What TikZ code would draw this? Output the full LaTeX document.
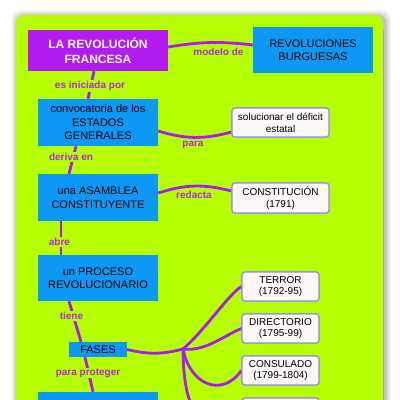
\documentclass[tikz,border=0pt]{standalone}
\usepackage{fontspec}
\setmainfont{Liberation Sans}
\definecolor{lime}{RGB}{182,255,0}
\definecolor{cpurple}{RGB}{178,28,240}
\definecolor{cblue}{RGB}{12,152,244}
\definecolor{lnk}{RGB}{165,30,240}
\definecolor{ltxt}{RGB}{175,40,232}
\definecolor{lav}{RGB}{150,140,240}
\definecolor{boxw}{RGB}{252,248,252}
\begin{document}
\begin{tikzpicture}[x=1pt,y=-1pt,
  concept/.style={fill=cblue, text=black, minimum width=120pt, minimum height=46pt,
    inner sep=0pt, align=center, font=\fontsize{11}{13.5}\selectfont},
  titlebox/.style={fill=cpurple, text=white, minimum width=140pt, minimum height=41pt,
    inner sep=0pt, align=center, font=\bfseries\fontsize{12}{14.5}\selectfont},
  wbox/.style={fill=boxw, draw=lav, line width=1.2pt, rounded corners=3pt, text=black,
    minimum width=97pt, minimum height=29pt, inner sep=0pt, align=center,
    font=\fontsize{10}{11.8}\selectfont},
  sbox/.style={wbox, minimum width=77pt},
  link/.style={draw=lnk, line width=2.8pt},
  lab/.style={text=ltxt, font=\bfseries\fontsize{10}{12}\selectfont, inner sep=1pt},
  labf/.style={lab, fill=lime}
]
\clip (0,0) rectangle (400,400);
\fill[white] (0,0) rectangle (400,400);
% shadow of the panel
\foreach \d/\o in {6/0.04,4.5/0.05,3/0.07,1.5/0.09}{
  \fill[black, opacity=\o, rounded corners=9pt] (16-\d+1,15-\d+1) rectangle (383+\d+2,440);
}
\fill[lime, rounded corners=8pt] (16,15) rectangle (383,440);
\draw[black!35, line width=0.5pt] (383,30) -- (383,400);

% concepts
\node[titlebox] (fr) at (98,50.5) {LA REVOLUCIÓN\\FRANCESA};
\node[concept] (rb) at (313,50) {REVOLUCIONES\\BURGUESAS};
\node[concept, minimum height=47pt] (conv) at (98,122.5) {convocatoria de los\\ESTADOS\\GENERALES};
\node[concept, minimum height=47pt] (asam) at (98,197.5) {una ASAMBLEA\\CONSTITUYENTE};
\node[concept] (proc) at (98,278) {un PROCESO\\REVOLUCIONARIO};
\node[concept, minimum width=58pt, minimum height=15pt] (fases) at (98,349.5) {FASES};
\node[concept] (bot) at (98,415) {};
\node[wbox] (sol) at (280.5,122.5) {solucionar el déficit\\estatal};
\node[wbox, minimum height=30pt] (cons) at (280.5,198) {CONSTITUCIÓN\\(1791)};
\node[sbox] (ter) at (280.5,286.5) {TERROR\\(1792-95)};
\node[sbox] (dir) at (280.5,328.5) {DIRECTORIO\\(1795-99)};
\node[sbox] (consul) at (280.5,370.5) {CONSULADO\\(1799-1804)};
\node[sbox] (imp) at (280.5,412.5) {};
\coordinate (j) at (183,349);

% connectors
\path[link] ([yshift=3.5pt]fr.east) to[bend left=8] ([yshift=5pt]rb.west);
\path[link] ([xshift=-4pt]fr.south) -- ([xshift=-10pt]conv.north);
\path[link] ([yshift=-8.5pt]conv.east) to[bend right=16] ([yshift=-9.5pt]sol.west);
\path[link] ([xshift=-22pt]conv.south) -- ([xshift=-29pt]asam.north);
\path[link] ([yshift=4.5pt]asam.east) to[bend left=16] ([yshift=7pt]cons.west);
\path[link] ([xshift=-37pt]asam.south) -- ([xshift=-37pt]proc.north);
\path[link] ([xshift=-29pt]proc.south) -- ([xshift=-17pt]fases.north);
\path[link] ([xshift=-13pt]fases.south) -- ([xshift=-5pt]bot.north);
\path[link] (fases.east) to[bend right=14] (j);
\path[link] (j) .. controls (205,330) and (228,295) .. (ter.west);
\path[link] (j) .. controls (205,352) and (225,335) .. (dir.west);
\path[link] (j) .. controls (190,385) and (222,398) .. (consul.west);
\path[link] (j) .. controls (184,440) and (215,418) .. (imp.west);

% redraw white boxes on top of line ends
\node[wbox] at (sol) {solucionar el déficit\\estatal};
\node[wbox, minimum height=30pt] at (cons) {CONSTITUCIÓN\\(1791)};
\node[sbox] at (ter) {TERROR\\(1792-95)};
\node[sbox] at (dir) {DIRECTORIO\\(1795-99)};
\node[sbox] at (consul) {CONSULADO\\(1799-1804)};
\node[sbox] at (imp) {};

% linking phrases
\node[lab] (l1) at (218.5,52) {modelo de};
\node[labf] (l2) at (90,86) {es iniciada por};
\node[lab] (l3) at (193,145) {para};
\node[labf] (l4) at (71,157) {deriva en};
\node[lab] (l5) at (194,195) {redacta};
\node[labf] (l6) at (59.5,242) {abre};
\node[labf] (l7) at (71.5,316) {tiene};
\node[labf] (l8) at (88,373) {para proteger};
\end{tikzpicture}
\end{document}
